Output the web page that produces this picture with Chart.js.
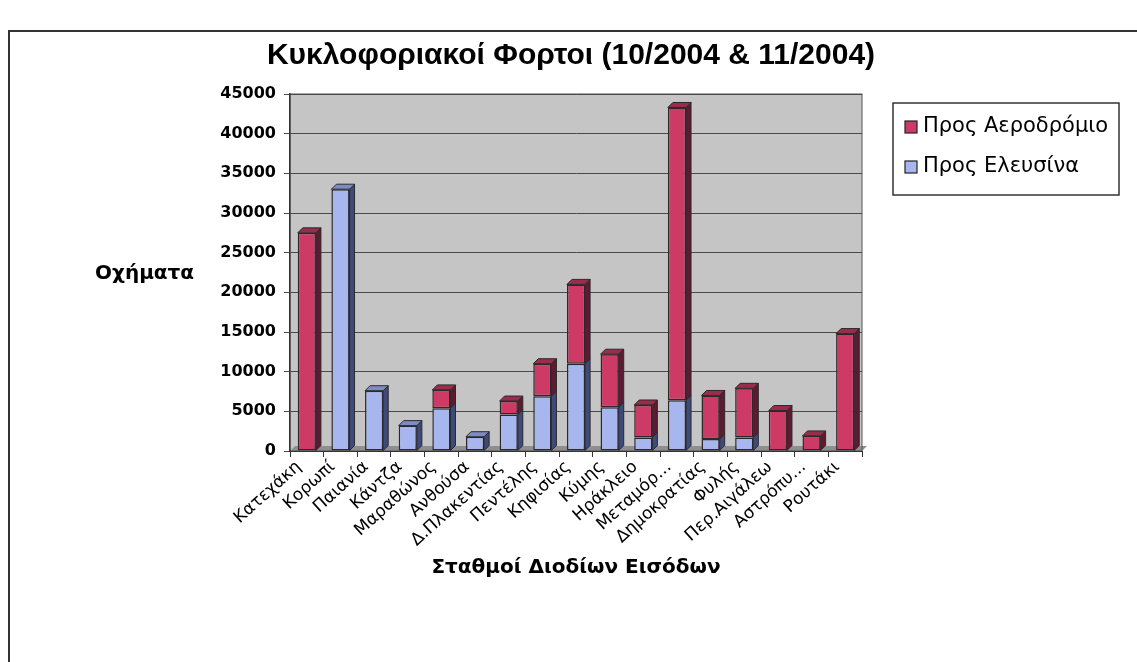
<!DOCTYPE html>
<html>
<head>
<meta charset="utf-8">
<script src="https://cdn.jsdelivr.net/npm/chart.js@4"></script>
<style>
  html, body { margin: 0; padding: 0; background: #fff; }
  #wrap { position: relative; width: 1137px; height: 662px; }
  #frame { position: absolute; left: 8px; top: 30px; width: 1140px; height: 650px;
           border-left: 2px solid #333; border-top: 2px solid #333; }
  canvas { position: absolute; left: 0; top: 0; }
</style>
</head>
<body>
<div id="wrap">
  <div id="frame"></div>
  <canvas id="chart" width="1137" height="662"></canvas>
</div>
<script>
// Stations (toll entry points)
const stations = ['Κατεχάκη', 'Κορωπί', 'Παιανία', 'Κάντζα', 'Μαραθώνος', 'Ανθούσα',
  'Δ.Πλακεντίας', 'Πεντέλης', 'Κηφισίας', 'Κύμης', 'Ηράκλειο', 'Μεταμόρ...',
  'Δημοκρατίας', 'Φυλής', 'Περ.Αιγάλεω', 'Αστρόπυ...', 'Ρουτάκι'];

// Vehicles towards Elefsina (bottom segment)
const toElefsina = [0, 33000, 7600, 3200, 5400, 1800, 4600, 6900, 11000, 5500,
  1700, 6400, 1500, 1700, 0, 0, 0];

// Vehicles towards the Airport (top segment)
const toAirport = [27500, 0, 0, 0, 2300, 0, 1700, 4100, 10000, 6700,
  4100, 36900, 5500, 6200, 5100, 1900, 14800];

const yTicks = [0, 5000, 10000, 15000, 20000, 25000, 30000, 35000, 40000, 45000];

const chartTitle = 'Κυκλοφοριακοί Φορτοι (10/2004 & 11/2004)';
const yTitle = 'Οχήματα';

const RED = '#cd3a66';
const BLUE = '#a8b6f0';
const DEPTH = 5;

// gray back wall + floor
const wallPlugin = {
  id: 'wall',
  beforeDraw(chart) {
    const { ctx, chartArea: a } = chart;
    ctx.save();
    ctx.fillStyle = '#c5c5c5';
    ctx.fillRect(a.left, a.top, a.right - a.left, a.bottom - a.top);
    ctx.fillStyle = '#8e8e8e';
    ctx.beginPath();
    ctx.moveTo(a.left, a.bottom);
    ctx.lineTo(a.right, a.bottom);
    ctx.lineTo(a.right + DEPTH, a.bottom - DEPTH);
    ctx.lineTo(a.left + DEPTH, a.bottom - DEPTH);
    ctx.closePath();
    ctx.fill();
    ctx.strokeStyle = '#555';
    ctx.lineWidth = 1;
    ctx.strokeRect(a.left, a.top, a.right - a.left, a.bottom - a.top);
    ctx.restore();
  }
};

// side and top faces to fake the 3D look
const depthPlugin = {
  id: 'depth',
  afterDatasetsDraw(chart) {
    const ctx = chart.ctx;
    const n = chart.data.labels.length;
    const metas = chart.data.datasets.map((d, i) => chart.getDatasetMeta(i));
    ctx.save();
    ctx.strokeStyle = '#2a2a2a';
    ctx.lineWidth = 1;
    for (let k = 0; k < n; k++) {
      let topBar = null;
      metas.forEach((m, di) => {
        const v = chart.data.datasets[di].data[k];
        if (!v) return;
        const b = m.data[k];
        const r = b.x + b.width / 2;
        ctx.fillStyle = di === 0 ? '#3d4a7a' : '#5e1a30';
        ctx.beginPath();
        ctx.moveTo(r, b.y);
        ctx.lineTo(r + DEPTH, b.y - DEPTH);
        ctx.lineTo(r + DEPTH, b.base - DEPTH);
        ctx.lineTo(r, b.base);
        ctx.closePath();
        ctx.fill();
        ctx.stroke();
        topBar = { b, di };
      });
      if (topBar) {
        const b = topBar.b;
        const l = b.x - b.width / 2, r = b.x + b.width / 2;
        ctx.fillStyle = topBar.di === 0 ? '#7f8cc4' : '#9a2c4c';
        ctx.beginPath();
        ctx.moveTo(l, b.y);
        ctx.lineTo(l + DEPTH, b.y - DEPTH);
        ctx.lineTo(r + DEPTH, b.y - DEPTH);
        ctx.lineTo(r, b.y);
        ctx.closePath();
        ctx.fill();
        ctx.stroke();
      }
    }
    ctx.restore();
  }
};

// title, horizontal y title and boxed legend
const extrasPlugin = {
  id: 'extras',
  afterDraw(chart) {
    const { ctx } = chart;
    ctx.save();
    ctx.fillStyle = '#000';
    ctx.textBaseline = 'middle';

    ctx.font = 'bold 30px "Liberation Sans"';
    ctx.textAlign = 'center';
    ctx.fillText(chartTitle, 571, 56);

    ctx.font = 'bold 20px "DejaVu Sans"';
    ctx.textAlign = 'left';
    ctx.fillText(yTitle, 95, 274);

    // legend (Excel lists the top series first)
    const lx = 893, ly = 103, lw = 226, lh = 92;
    ctx.strokeStyle = '#333';
    ctx.lineWidth = 1.5;
    ctx.strokeRect(lx, ly, lw, lh);
    ctx.font = '21px "DejaVu Sans"';
    const items = chart.data.datasets.slice().reverse();
    items.forEach((d, i) => {
      const cy = ly + 24 + i * 40;
      ctx.fillStyle = d.backgroundColor;
      ctx.fillRect(lx + 12, cy - 6, 12, 12);
      ctx.strokeStyle = '#222';
      ctx.lineWidth = 1.2;
      ctx.strokeRect(lx + 12, cy - 6, 12, 12);
      ctx.fillStyle = '#000';
      ctx.fillText(d.label, lx + 30, cy);
    });
    ctx.restore();
  }
};

new Chart(document.getElementById('chart'), {
  type: 'bar',
  data: {
    labels: stations,
    datasets: [
      {
        label: 'Προς Ελευσίνα',
        data: toElefsina,
        backgroundColor: BLUE,
        borderColor: '#2a2a2a',
        borderWidth: 1.5,
        borderSkipped: false
      },
      {
        label: 'Προς Αεροδρόμιο',
        data: toAirport,
        backgroundColor: RED,
        borderColor: '#2a2a2a',
        borderWidth: 1.5,
        borderSkipped: false
      }
    ]
  },
  options: {
    responsive: false,
    animation: false,
    layout: { padding: { left: 210, right: 275, top: 94, bottom: 80 } },
    datasets: { bar: { barPercentage: 0.54, categoryPercentage: 1 } },
    plugins: {
      legend: { display: false },
      tooltip: { enabled: false },
      title: { display: false }
    },
    scales: {
      x: {
        stacked: true,
        grid: { display: true, drawOnChartArea: false, drawTicks: true, tickLength: 6, color: '#333' },
        border: { color: '#333', width: 1 },
        ticks: {
          color: '#000',
          minRotation: 42,
          maxRotation: 42,
          autoSkip: false,
          labelOffset: -8,
          padding: 0,
          font: { family: '"DejaVu Sans"', size: 17 }
        },
        title: {
          display: true,
          text: 'Σταθμοί Διοδίων Εισόδων',
          color: '#000',
          font: { family: '"DejaVu Sans"', size: 20, weight: 'bold' },
          padding: { top: 4, bottom: 2 }
        },
        afterFit(scale) { scale.height = 131; }
      },
      y: {
        stacked: true,
        min: 0,
        max: 45000,
        afterBuildTicks(scale) { scale.ticks = yTicks.map(v => ({ value: v })); },
        grid: { color: '#4a4a4a', lineWidth: 1, tickLength: 6, drawOnChartArea: true },
        border: { color: '#333', width: 1.5 },
        ticks: {
          color: '#000',
          padding: 8,
          callback: v => String(v),
          font: { family: '"DejaVu Sans"', size: 16, weight: 'bold' }
        },
        afterFit(scale) { scale.width = 80; }
      }
    }
  },
  plugins: [wallPlugin, depthPlugin, extrasPlugin]
});
</script>
</body>
</html>
